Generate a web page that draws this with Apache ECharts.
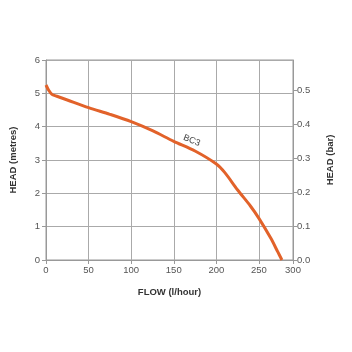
<!DOCTYPE html>
<html>
<head>
<meta charset="utf-8">
<script src="https://cdn.jsdelivr.net/npm/echarts@6/dist/echarts.min.js"></script>
<style>
  html, body { margin: 0; padding: 0; background: #fff; }
  #chart { width: 352px; height: 352px; }
</style>
</head>
<body>
<div id="chart"></div>
<script>
// pump curve BC3
const flow = [0, 3, 7, 12, 25, 50, 75, 100, 125, 150, 175, 200, 210, 225, 240, 250, 264, 272, 277];
const head = [5.25, 5.1, 4.97, 4.92, 4.8, 4.57, 4.37, 4.15, 3.88, 3.56, 3.27, 2.88, 2.62, 2.1, 1.62, 1.25, 0.65, 0.25, 0];

const flowMax = 290;      // frame ends here, last label reads 300
const headMax = 6;
const barMax = 0.59;      // 6 m of water ~ 0.59 bar

const labelFont = { color: '#555', fontSize: 9.5, fontFamily: 'Liberation Sans' };
const titleFont = { color: '#333', fontSize: 9.5, fontWeight: 'bold', fontFamily: 'Liberation Sans' };

const chart = echarts.init(document.getElementById('chart'));

chart.setOption({
  animation: false,
  grid: {
    left: 44, right: 59, top: 60, bottom: 92,
    show: true, borderColor: '#999', borderWidth: 1
  },
  xAxis: {
    type: 'value',
    min: 0, max: flowMax, interval: 50,
    name: 'FLOW (l/hour)',
    nameLocation: 'middle', nameGap: 27,
    nameTextStyle: titleFont,
    axisLine: { lineStyle: { color: '#999' } },
    axisTick: { show: true, length: 4, lineStyle: { color: '#999' } },
    axisLabel: Object.assign({ margin: 5, formatter: v => v === flowMax ? '300' : String(v) }, labelFont),
    splitLine: { show: true, lineStyle: { color: '#aaa', width: 1 } }
  },
  yAxis: [
    {
      type: 'value',
      min: 0, max: headMax, interval: 1,
      name: 'HEAD (metres)',
      nameLocation: 'middle', nameGap: 28, nameRotate: 90,
      nameTextStyle: titleFont,
      axisLine: { show: true, lineStyle: { color: '#999' } },
      axisTick: { show: true, length: 4, lineStyle: { color: '#999' } },
      axisLabel: Object.assign({ margin: 6 }, labelFont),
      splitLine: { show: true, lineStyle: { color: '#aaa', width: 1 } }
    },
    {
      type: 'value',
      position: 'right',
      min: 0, max: barMax, interval: 0.1,
      name: 'HEAD (bar)',
      nameLocation: 'middle', nameGap: 32, nameRotate: 90,
      nameTextStyle: titleFont,
      axisLine: { show: true, lineStyle: { color: '#999' } },
      axisTick: { show: true, length: 4, lineStyle: { color: '#999' } },
      axisLabel: Object.assign({ margin: 4, showMaxLabel: false, formatter: v => v.toFixed(1) }, labelFont),
      splitLine: { show: false }
    }
  ],
  series: [
    {
      type: 'line',
      name: 'BC3',
      data: flow.map((f, i) => [f, head[i]]),
      smooth: 0.3,
      symbol: 'none',
      lineStyle: { color: '#e2622a', width: 3 },
      z: 5
    }
  ],
  graphic: [
    {
      type: 'text',
      left: 182, top: 133,
      rotation: -22 * Math.PI / 180,
      style: { text: 'BC3', fill: '#444', fontSize: 9, fontFamily: 'Liberation Sans' }
    }
  ]
});
</script>
</body>
</html>
